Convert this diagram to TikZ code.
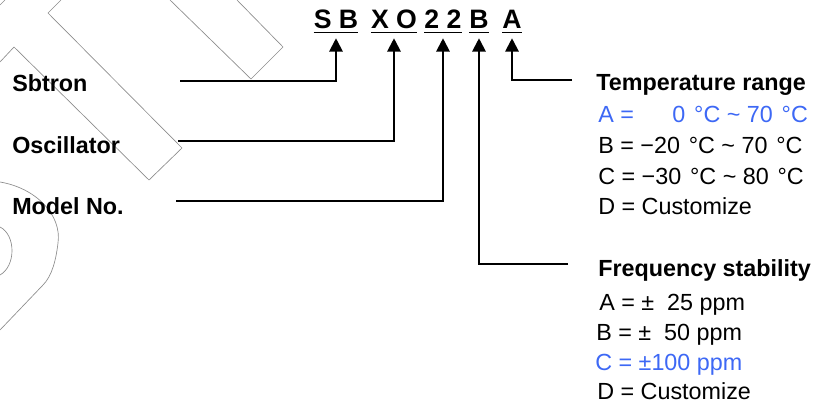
\documentclass[tikz,border=0pt]{standalone}
\usepackage{fontspec}
\setmainfont{Liberation Sans}
\usetikzlibrary{arrows.meta,positioning}
\definecolor{pick}{RGB}{61,104,245}
\definecolor{wmark}{gray}{0.55}
\newcommand{\degc}{\hspace{0.1em}°C}

\begin{document}
\begin{tikzpicture}[x=0.75pt,y=-0.75pt,
    every node/.style={inner sep=0pt},
    code/.style={font=\fontsize{20}{24}\selectfont\bfseries,anchor=base,text depth=3pt},
    field/.style={font=\fontsize{17.5}{21}\selectfont\bfseries,anchor=base west},
    item/.style={font=\fontsize{17.5}{21}\selectfont,anchor=base west},
    feed/.style={line width=1.5pt,-{Triangle[length=10pt,width=10pt]},shorten >=4.5pt},
    uline/.style={line width=0.8pt}]
  \useasboundingbox (0,0) rectangle (821,405);

  % faint logo outline behind the labels
  \begin{scope}[wmark,line width=0.5pt]
    \draw (0,5) -- (5,0);
    \draw (0,62) -- (14,47) -- (149,180) -- (182,148) -- (48,13) -- (61,0);
    \draw (170,0) -- (251,79) -- (283,47) -- (237,0);
    \draw (0,182) .. controls (36,188) and (62,215) .. (58,243)
      .. controls (56,260) and (52,276) .. (43,285) -- (0,330);
    \draw (0,227) .. controls (16,235) and (16,266) .. (0,275);
  \end{scope}

  % part number
  \node[code] (sb) at (336,28) {S B};
  \node[code] (xo) at (394,28) {X O};
  \node[code] (nn) at (443,28) {2 2};
  \node[code] (stab) at (479,28) {B};
  \node[code] (temp) at (512,28) {A};
  \draw[uline] (sb.south west) -- (sb.south east);
  \draw[uline] (xo.south west) -- (xo.south east);
  \draw[uline] (nn.south west) -- (nn.south east);
  \draw[uline] (stab.south west) -- (stab.south east);
  \draw[uline] (temp.south west) -- (temp.south east);

  % left side
  \node[field] (sbtron) at (12,91) {Sbtron};
  \node[field] (osc) at (12,153) {Oscillator};
  \node[field] (model) at (12,214) {Model No.};
  \coordinate (sbtron-lead) at (180,81);
  \coordinate (osc-lead) at (178,141);
  \coordinate (model-lead) at (176,201);
  \draw[feed] (sbtron-lead) -| (sb.south);
  \draw[feed] (osc-lead) -| (xo.south);
  \draw[feed] (model-lead) -| (nn.south);

  % temperature range
  \coordinate (temp-lead) at (572,80);
  \draw[feed] (temp-lead) -| (temp.south);
  \node[field] (temp-title) at (596,90) {Temperature range};
  \node[item,pick] (temp-a) at (598,122) {A = \hspace{1.37em}0 \degc{} \textasciitilde{} 70 \degc};
  \node[item] (temp-b) at (598,153) {B = −20 \degc{} \textasciitilde{} 70 \degc};
  \node[item] (temp-c) at (598,184) {C = −30 \degc{} \textasciitilde{} 80 \degc};
  \node[item] (temp-d) at (598,214) {D = Customize};

  % frequency stability
  \coordinate (freq-lead) at (568,264);
  \draw[feed] (freq-lead) -| (stab.south);
  \node[field] (freq-title) at (598,276) {Frequency stability};
  \node[item] (freq-a) at (599,310) {A = ±\phantom{1}25 ppm};
  \node[item] (freq-b) at (596,340) {B = ±\phantom{1}50 ppm};
  \node[item,pick] (freq-c) at (595,370) {C = ±100 ppm};
  \node[item] (freq-d) at (597,399) {D = Customize};
\end{tikzpicture}
\end{document}
